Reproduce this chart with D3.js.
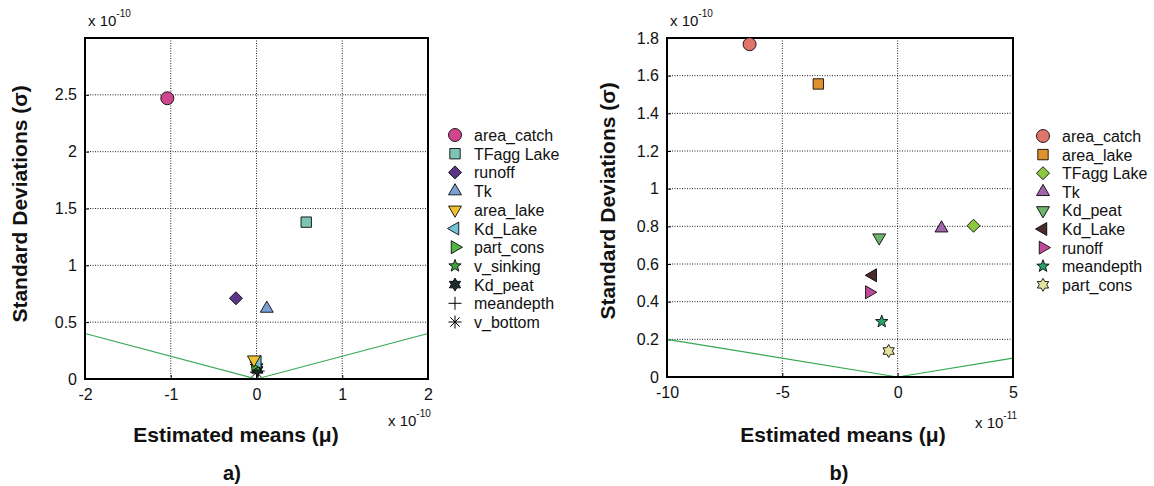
<!DOCTYPE html>
<html>
<head>
<meta charset="utf-8">
<script src="https://cdn.jsdelivr.net/npm/d3@7"></script>
<style>
  body { margin: 0; background: #fff; }
  svg { font-family: "Liberation Sans", Arial, sans-serif; }
</style>
</head>
<body>
<svg id="chart" width="1154" height="486"></svg>
<script>
// panel a) values, units of 1e-10
const namesA = ["area_catch", "TFagg Lake", "runoff", "Tk", "area_lake", "Kd_Lake", "part_cons", "v_sinking", "Kd_peat", "meandepth", "v_bottom"];
const muA = [-1.04, 0.58, -0.24, 0.12, -0.03, 0.01, -0.01, 0.0, 0.01, 0.02, 0.0];
const sigmaA = [2.47, 1.38, 0.71, 0.62, 0.17, 0.15, 0.13, 0.11, 0.08, 0.07, 0.06];
const shapesA = ["circle", "square", "diamond", "up", "down", "left", "right", "star", "hexagram", "plus", "asterisk"];
const colorsA = ["#d0468c", "#7cc4b4", "#5c3488", "#7c9fd4", "#f0c030", "#74c2d6", "#52b444", "#3fa040", "#1c2c2c", "#000", "#000"];
const xTicksA = [-2, -1, 0, 1, 2];
const yTicksA = [0, 0.5, 1, 1.5, 2, 2.5];

// panel b) values, mu in 1e-11, sigma in 1e-10
const namesB = ["area_catch", "area_lake", "TFagg Lake", "Tk", "Kd_peat", "Kd_Lake", "runoff", "meandepth", "part_cons"];
const muB = [-6.42, -3.44, 3.29, 1.9, -0.8, -1.08, -1.23, -0.69, -0.39];
const sigmaB = [1.767, 1.556, 0.803, 0.79, 0.74, 0.54, 0.45, 0.294, 0.138];
const shapesB = ["circle", "square", "diamond", "up", "down", "left", "right", "star", "hexagram"];
const colorsB = ["#e0756c", "#e0912f", "#8dc63f", "#a064a8", "#6db46c", "#4a2a2c", "#c04a98", "#2aa06a", "#e4e4a2"];
const xTicksB = [-10, -5, 0, 5];
const yTicksB = [0, 0.2, 0.4, 0.6, 0.8, 1, 1.2, 1.4, 1.6, 1.8];

// sigma = 0.2 * |mu| reference line (same scaled units in both panels)
const vLineA = [[-2, 0.4], [0, 0], [2, 0.4]];
const vLineB = [[-10, 0.2], [0, 0], [5, 0.1]];

const svg = d3.select("#chart");

function markerPath(shape, r) {
  const poly = (n, rad, rot) => d3.range(n).map(i => {
    const a = rot + i * 2 * Math.PI / n;
    return [rad * Math.cos(a), rad * Math.sin(a)];
  });
  const toPath = pts => "M" + pts.map(p => p.join(",")).join("L") + "Z";
  switch (shape) {
    case "circle": return d3.symbol(d3.symbolCircle, Math.PI * r * r)();
    case "square": return toPath([[-r * 0.8, -r * 0.8], [r * 0.8, -r * 0.8], [r * 0.8, r * 0.8], [-r * 0.8, r * 0.8]]);
    case "diamond": return toPath([[0, -r], [r, 0], [0, r], [-r, 0]]);
    case "up": return toPath(poly(3, r * 1.15, -Math.PI / 2));
    case "down": return toPath(poly(3, r * 1.15, Math.PI / 2));
    case "left": return toPath(poly(3, r * 1.15, Math.PI));
    case "right": return toPath(poly(3, r * 1.15, 0));
    case "star": {
      const pts = [];
      for (let i = 0; i < 10; i++) {
        const a = -Math.PI / 2 + i * Math.PI / 5;
        const rad = i % 2 ? r * 0.42 : r;
        pts.push([rad * Math.cos(a), rad * Math.sin(a)]);
      }
      return toPath(pts);
    }
    case "hexagram": {
      const pts = [];
      for (let i = 0; i < 12; i++) {
        const a = -Math.PI / 2 + i * Math.PI / 6;
        const rad = i % 2 ? r * 0.58 : r;
        pts.push([rad * Math.cos(a), rad * Math.sin(a)]);
      }
      return toPath(pts);
    }
    case "plus": return `M${-r},0L${r},0M0,${-r}L0,${r}`;
    case "asterisk": {
      const d = r * 0.72;
      return `M${-r},0L${r},0M0,${-r}L0,${r}M${-d},${-d}L${d},${d}M${-d},${d}L${d},${-d}`;
    }
  }
}

function drawMarker(g, shape, color, x, y, r) {
  const line = shape === "plus" || shape === "asterisk";
  g.append("path")
    .attr("d", markerPath(shape, r))
    .attr("transform", `translate(${x},${y})`)
    .attr("fill", line ? "none" : color)
    .attr("stroke", "#000")
    .attr("stroke-opacity", line ? 1 : 0.85)
    .attr("stroke-width", 1);
}

function drawPanel(p) {
  const x = d3.scaleLinear().domain(p.xDomain).range([p.left, p.right]);
  const y = d3.scaleLinear().domain(p.yDomain).range([p.bottom, p.top]);
  const g = svg.append("g");

  // grid
  g.append("g").selectAll("line").data(p.xTicks.slice(1, -1)).join("line")
    .attr("x1", d => x(d)).attr("x2", d => x(d))
    .attr("y1", p.top).attr("y2", p.bottom)
    .attr("stroke", "#222").attr("stroke-width", 1).attr("stroke-dasharray", "1,1.5");
  g.append("g").selectAll("line").data(p.yTicks.filter(d => d > p.yDomain[0] && d < p.yDomain[1])).join("line")
    .attr("x1", p.left).attr("x2", p.right)
    .attr("y1", d => y(d)).attr("y2", d => y(d))
    .attr("stroke", "#222").attr("stroke-width", 1).attr("stroke-dasharray", "1,1.5");

  // axes (hyphen minus like the original, not the unicode minus)
  const fmt = d => String(d);
  const xAxis = g.append("g").attr("transform", `translate(0,${p.bottom})`)
    .call(d3.axisBottom(x).tickValues(p.xTicks).tickSize(-4).tickPadding(10).tickFormat(fmt));
  const yAxis = g.append("g").attr("transform", `translate(${p.left},0)`)
    .call(d3.axisLeft(y).tickValues(p.yTicks).tickSize(-4).tickPadding(8).tickFormat(fmt));
  [xAxis, yAxis].forEach(a => {
    a.select(".domain").remove();
    a.selectAll("text").attr("font-size", 16).attr("fill", "#111").attr("font-family", "Liberation Sans, Arial");
    a.selectAll(".tick line").attr("stroke", "#000");
  });

  // reference V line
  g.append("path")
    .datum(p.vLine)
    .attr("d", d3.line().x(d => x(d[0])).y(d => y(d[1])))
    .attr("fill", "none").attr("stroke", "#33a853").attr("stroke-width", 1.2);

  // frame
  g.append("rect")
    .attr("x", p.left).attr("y", p.top)
    .attr("width", p.right - p.left).attr("height", p.bottom - p.top)
    .attr("fill", "none").attr("stroke", "#000").attr("stroke-width", 2);

  // points, drawn last-to-first so the first series sits on top
  for (let i = p.names.length - 1; i >= 0; i--) {
    drawMarker(g, p.shapes[i], p.colors[i], x(p.mu[i]), y(p.sigma[i]), 6.5);
  }

  // legend
  p.names.forEach((name, i) => {
    const ly = p.legendTop + i * p.legendStep;
    drawMarker(g, p.shapes[i], p.colors[i], p.legendX, ly, 6.5);
    g.append("text").attr("x", p.legendX + 19).attr("y", ly + 6)
      .attr("font-size", 16).attr("fill", "#111").text(name);
  });

  // exponent labels
  const expo = (tx, ty, e) => {
    const t = g.append("text").attr("x", tx).attr("y", ty).attr("font-size", 15).attr("fill", "#111");
    t.append("tspan").text("x 10");
    t.append("tspan").attr("dy", -9).attr("font-size", 10).text(e);
  };
  expo(p.left + 3, 26, "-10");
  expo(p.xExpX, p.xExpY, p.xExp);

  // titles
  g.append("text")
    .attr("transform", `translate(${p.yTitleX},${p.yTitleY}) rotate(-90)`)
    .attr("text-anchor", "middle").attr("font-size", 21).attr("font-weight", "bold").attr("fill", "#111")
    .text("Standard Deviations (σ)");
  g.append("text")
    .attr("x", p.xTitleX).attr("y", 442)
    .attr("text-anchor", "middle").attr("font-size", 21).attr("font-weight", "bold").attr("fill", "#111")
    .text("Estimated means (μ)");
  g.append("text")
    .attr("x", p.xTitleX - 4).attr("y", 480)
    .attr("text-anchor", "middle").attr("font-size", 20).attr("font-weight", "bold").attr("fill", "#111")
    .text(p.label);
}

drawPanel({
  names: namesA, mu: muA, sigma: sigmaA, shapes: shapesA, colors: colorsA,
  xDomain: [-2, 2], yDomain: [0, 3], xTicks: xTicksA, yTicks: yTicksA, vLine: vLineA,
  left: 85, right: 428, top: 38, bottom: 379,
  legendX: 455, legendTop: 135, legendStep: 18.7,
  xExp: "-10", xExpX: 388, xExpY: 426,
  yTitleX: 27, yTitleY: 204, xTitleX: 236, label: "a)"
});

drawPanel({
  names: namesB, mu: muB, sigma: sigmaB, shapes: shapesB, colors: colorsB,
  xDomain: [-10, 5], yDomain: [0, 1.8], xTicks: xTicksB, yTicks: yTicksB, vLine: vLineB,
  left: 667, right: 1013, top: 38, bottom: 377,
  legendX: 1043, legendTop: 136, legendStep: 18.6,
  xExp: "-11", xExpX: 975, xExpY: 428,
  yTitleX: 615, yTitleY: 201, xTitleX: 843, label: "b)"
});
</script>
</body>
</html>
